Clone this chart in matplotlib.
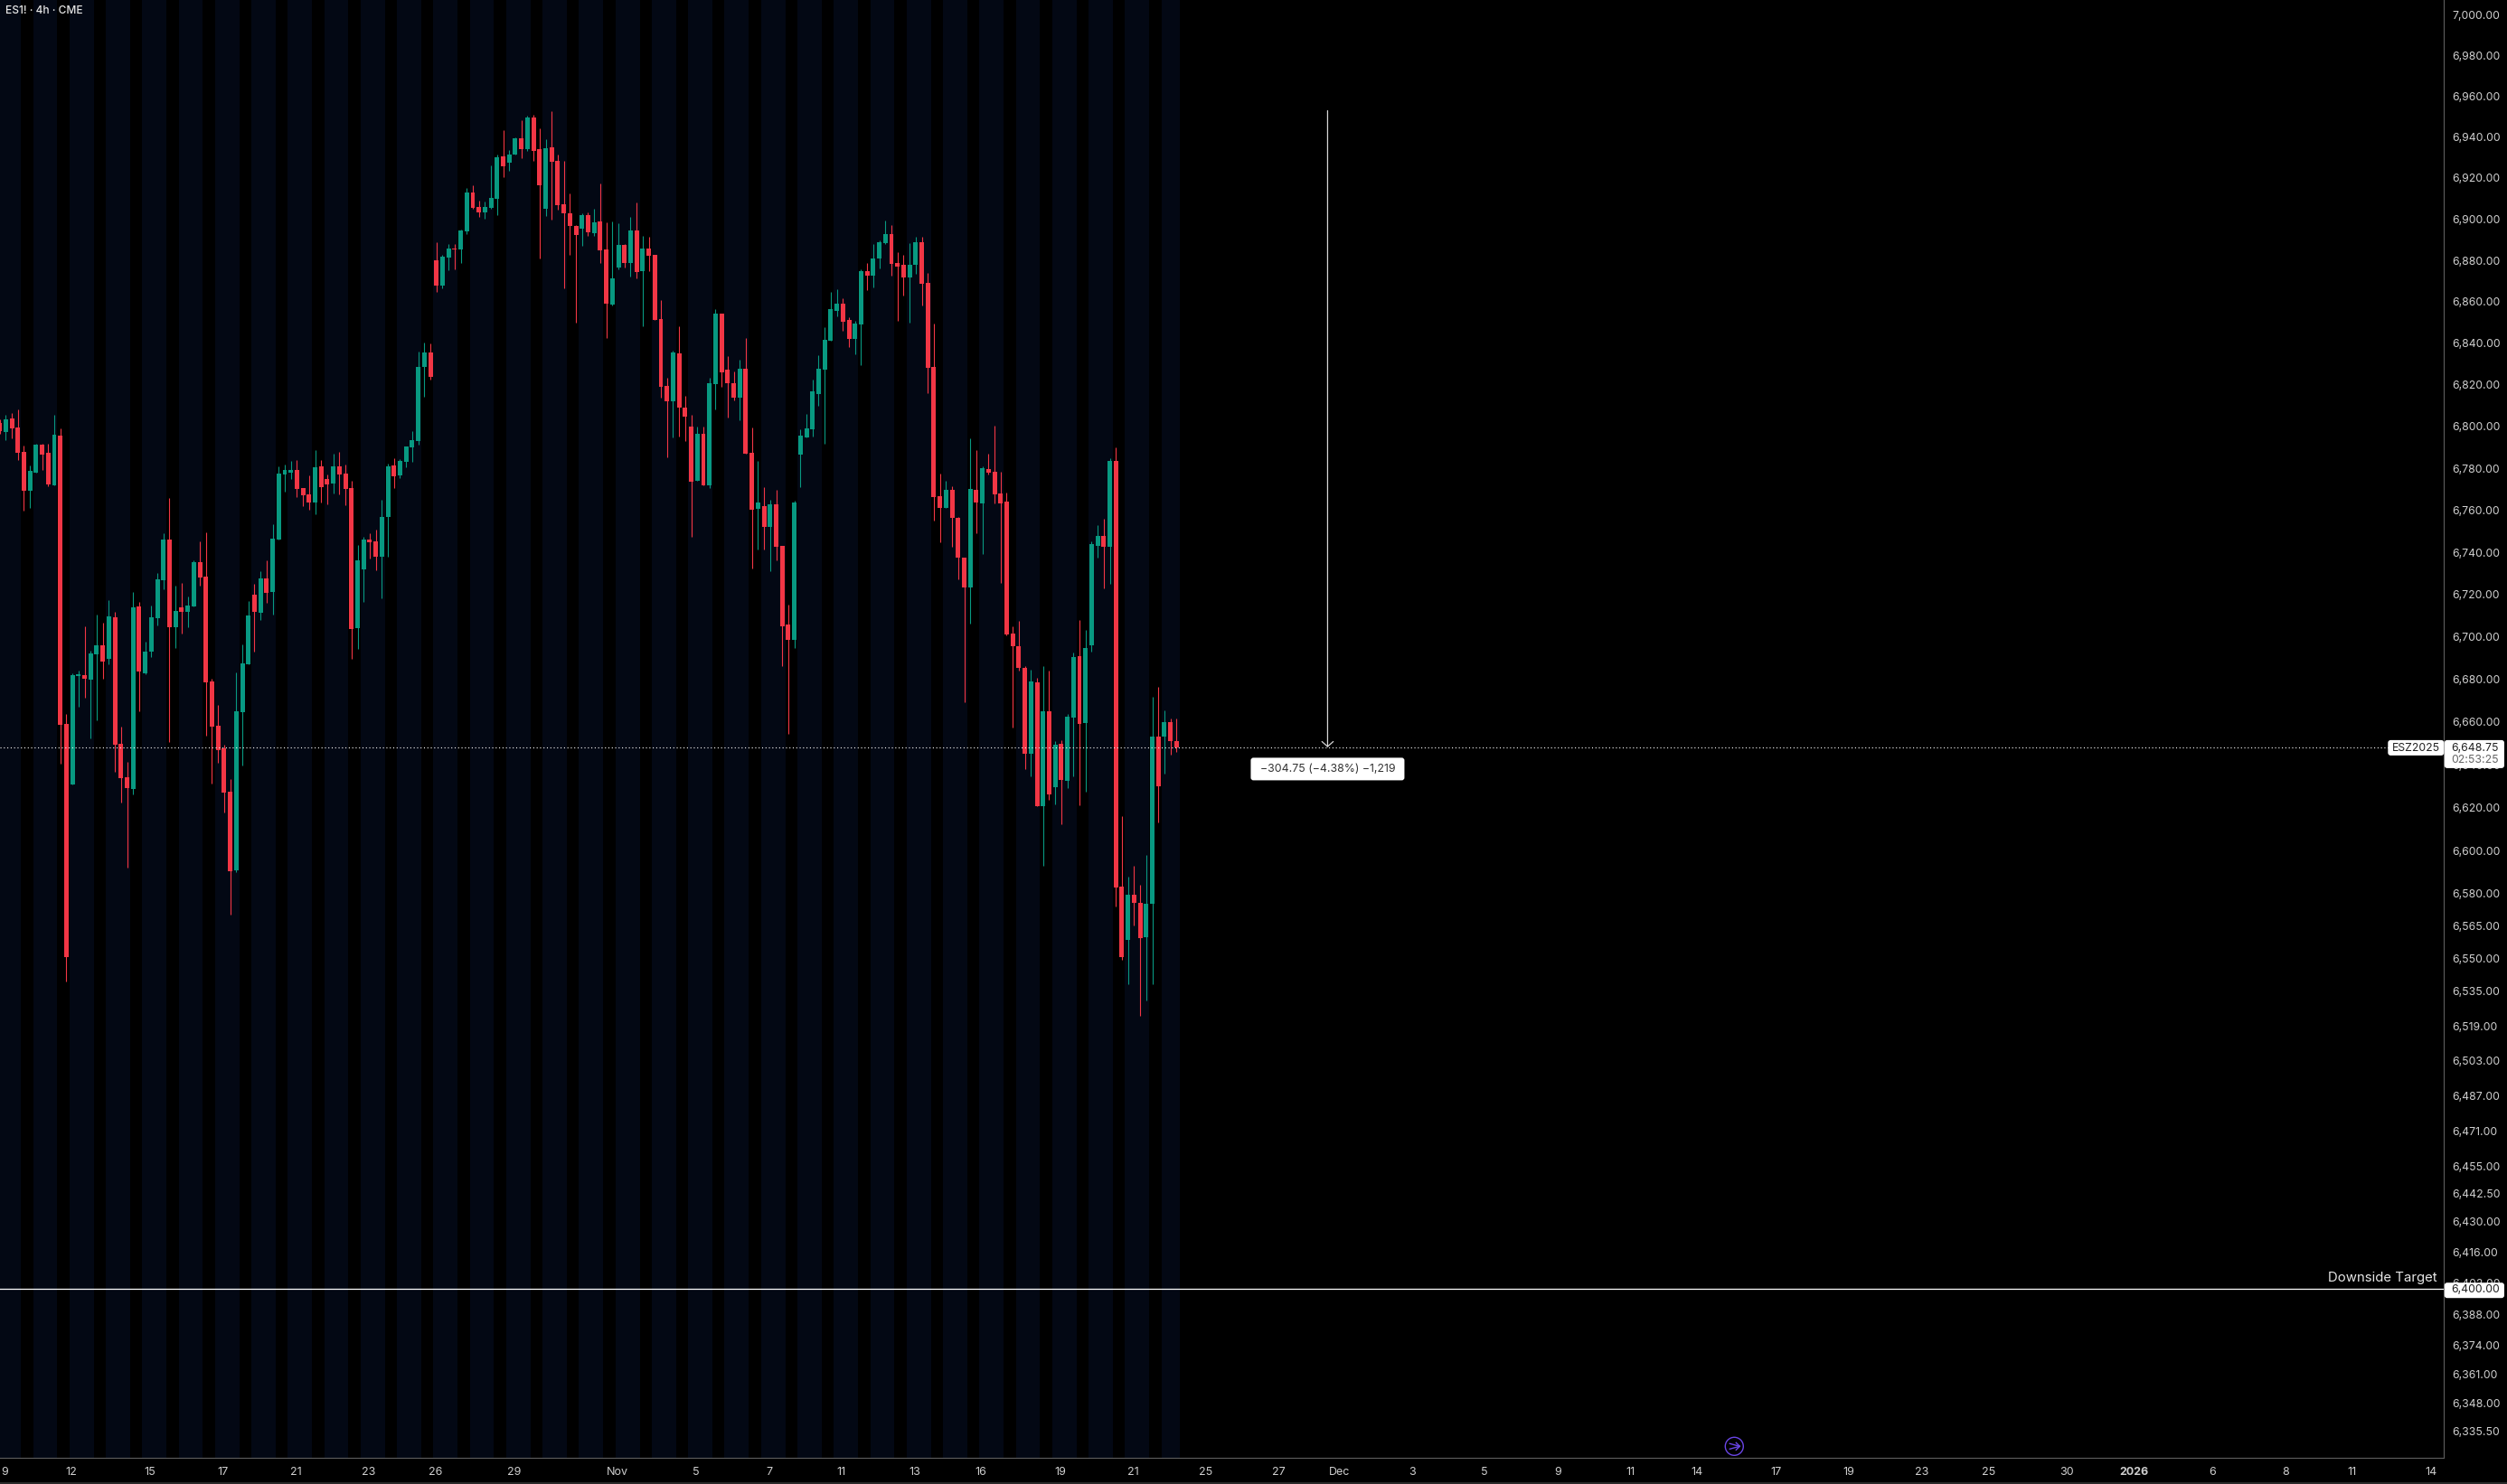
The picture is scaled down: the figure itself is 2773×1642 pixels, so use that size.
import numpy as np
import matplotlib
matplotlib.use("Agg")
import matplotlib.pyplot as plt
from matplotlib.lines import Line2D
from matplotlib.patches import Circle, FancyBboxPatch
from matplotlib.transforms import IdentityTransform, ScaledTranslation

plt.rcParams['font.family'] = ['Inter', 'DejaVu Sans']

# ==============================
# 1. Data
# ==============================
opens = [
    6802.4, 6798.1, 6804.5, 6800.3, 6788.5, 6770.0, 6778.7, 6792.0, 6788.1, 6772.6,
    6796.4, 6659.7, 6631.4, 6682.4, 6682.7, 6680.6, 6692.3, 6696.7, 6690.3, 6709.9,
    6650.4, 6634.8, 6629.3, 6715.0, 6683.4, 6693.7, 6709.5, 6727.4, 6746.7, 6705.3,
    6714.7, 6712.6, 6715.0, 6736.1, 6729.2, 6679.6, 6658.9, 6648.2, 6628.0, 6591.4,
    6665.2, 6687.8, 6720.6, 6712.2, 6728.4, 6721.9, 6746.7, 6777.7, 6778.7, 6779.9,
    6771.4, 6768.3, 6764.4, 6781.6, 6775.6, 6773.5, 6781.6, 6778.1, 6771.4, 6704.7,
    6732.6, 6746.7, 6745.8, 6738.6, 6757.5, 6782.1, 6777.3, 6783.8, 6790.6, 6793.7,
    6829.3, 6836.3, 6880.7, 6868.4, 6882.0, 6886.4, 6886.0, 6894.7, 6913.6, 6906.5,
    6903.9, 6906.1, 6910.4, 6931.3, 6928.1, 6931.9, 6940.1, 6934.8, 6950.2, 6934.8,
    6905.7, 6935.6, 6929.1, 6907.8, 6903.5, 6897.3, 6896.1, 6902.5, 6893.8, 6899.4,
    6886.0, 6859.2, 6877.2, 6888.1, 6879.3, 6895.1, 6875.4, 6886.4, 6883.4, 6852.4,
    6820.2, 6812.8, 6835.7, 6809.7, 6800.6, 6774.8, 6797.1, 6772.5, 6821.0, 6855.0,
    6827.9, 6821.4, 6814.6, 6828.3, 6788.1, 6761.4, 6762.7, 6752.7, 6763.5, 6743.7,
    6706.4, 6699.2, 6787.3, 6795.4, 6799.2, 6816.3, 6827.9, 6841.7, 6856.3, 6859.8,
    6851.9, 6842.5, 6849.8, 6875.4, 6873.3, 6881.7, 6889.1, 6893.4, 6879.4, 6878.3,
    6872.5, 6878.3, 6889.5, 6869.8, 6829.3, 6767.4, 6761.8, 6770.4, 6757.2, 6738.1,
    6724.0, 6770.4, 6764.1, 6780.4, 6779.0, 6768.7, 6764.9, 6702.1, 6696.2, 6686.0,
    6645.7, 6679.2, 6621.3, 6665.7, 6630.2, 6650.4, 6633.0, 6662.7, 6691.5, 6660.2,
    6696.7, 6743.8, 6748.4, 6743.2, 6784.2, 6583.8, 6559.2, 6580.1, 6576.4, 6560.5,
    6576.0, 6653.8, 6653.8, 6660.6, 6651.7,
]
highs = [
    6804.0, 6806.3, 6807.2, 6809.0, 6791.6, 6782.1, 6792.4, 6792.4, 6792.4, 6806.3,
    6799.7, 6664.4, 6683.4, 6684.7, 6705.6, 6694.1, 6711.2, 6707.4, 6718.1, 6712.6,
    6658.3, 6642.0, 6721.7, 6717.1, 6698.4, 6715.4, 6730.9, 6749.8, 6766.6, 6724.9,
    6726.2, 6719.8, 6736.8, 6745.8, 6750.2, 6681.0, 6668.8, 6649.8, 6633.9, 6684.0,
    6697.1, 6717.7, 6725.8, 6731.9, 6736.8, 6754.2, 6781.6, 6782.5, 6784.2, 6784.6,
    6771.4, 6777.3, 6789.5, 6784.6, 6777.7, 6787.7, 6788.5, 6782.5, 6774.8, 6744.2,
    6748.0, 6749.8, 6751.5, 6765.8, 6782.9, 6785.6, 6785.2, 6791.2, 6798.5, 6836.7,
    6840.9, 6840.3, 6889.5, 6883.4, 6888.5, 6888.5, 6895.5, 6915.7, 6917.1, 6909.6,
    6909.2, 6926.7, 6932.1, 6944.1, 6934.2, 6940.5, 6949.0, 6951.2, 6951.6, 6944.9,
    6939.5, 6953.3, 6932.1, 6929.1, 6913.2, 6897.7, 6903.5, 6903.9, 6905.7, 6918.0,
    6899.0, 6899.4, 6898.6, 6888.5, 6901.8, 6908.6, 6892.6, 6892.0, 6883.4, 6861.6,
    6824.0, 6837.1, 6848.9, 6815.3, 6806.2, 6800.6, 6800.6, 6824.0, 6857.1, 6855.0,
    6834.5, 6827.2, 6832.8, 6843.1, 6800.2, 6784.2, 6771.7, 6765.8, 6770.4, 6743.7,
    6716.0, 6765.3, 6799.2, 6806.6, 6823.1, 6834.9, 6848.5, 6865.5, 6866.7, 6862.3,
    6853.2, 6851.5, 6876.4, 6879.5, 6888.5, 6890.3, 6900.0, 6897.7, 6884.6, 6883.4,
    6889.1, 6892.0, 6892.0, 6874.6, 6850.2, 6778.2, 6774.8, 6772.1, 6757.6, 6738.1,
    6795.0, 6789.4, 6781.6, 6787.7, 6801.0, 6779.0, 6769.1, 6705.6, 6708.3, 6687.0,
    6685.3, 6681.5, 6687.0, 6684.9, 6651.7, 6652.1, 6664.4, 6693.2, 6708.7, 6703.9,
    6745.9, 6753.6, 6756.7, 6785.5, 6790.7, 6616.6, 6588.5, 6593.6, 6584.8, 6598.6,
    6672.5, 6677.0, 6666.1, 6662.3, 6662.3,
]
lows = [
    6797.0, 6794.1, 6795.1, 6784.6, 6760.6, 6761.7, 6778.7, 6779.9, 6772.2, 6772.6,
    6641.0, 6540.0, 6631.4, 6667.8, 6672.0, 6652.9, 6661.4, 6681.0, 6687.8, 6637.3,
    6622.9, 6592.7, 6626.7, 6665.5, 6683.0, 6691.2, 6706.0, 6723.3, 6651.2, 6695.4,
    6702.2, 6705.3, 6715.0, 6724.9, 6654.2, 6631.8, 6641.6, 6618.2, 6570.8, 6590.6,
    6640.3, 6687.8, 6693.7, 6708.8, 6716.8, 6711.2, 6746.7, 6769.7, 6775.6, 6767.0,
    6762.7, 6761.0, 6758.8, 6764.4, 6763.4, 6768.7, 6768.3, 6763.0, 6690.3, 6695.0,
    6717.1, 6737.8, 6732.2, 6718.9, 6738.6, 6771.4, 6776.0, 6781.2, 6783.8, 6792.0,
    6814.9, 6823.1, 6865.5, 6867.2, 6875.8, 6876.4, 6879.3, 6893.4, 6905.7, 6901.8,
    6900.8, 6905.7, 6902.5, 6921.0, 6924.1, 6931.9, 6930.2, 6933.8, 6929.0, 6881.7,
    6902.1, 6900.4, 6905.2, 6867.2, 6883.4, 6850.7, 6887.7, 6892.6, 6892.6, 6879.3,
    6843.1, 6858.8, 6876.4, 6877.2, 6872.9, 6871.9, 6848.9, 6875.4, 6851.8, 6814.6,
    6786.0, 6795.4, 6795.8, 6793.7, 6748.1, 6774.8, 6772.5, 6771.4, 6808.9, 6819.8,
    6804.9, 6813.2, 6803.7, 6787.7, 6733.0, 6742.0, 6742.0, 6731.8, 6736.8, 6686.9,
    6655.2, 6695.5, 6771.7, 6795.4, 6795.8, 6810.5, 6792.4, 6841.7, 6853.6, 6846.6,
    6838.6, 6835.3, 6830.0, 6866.3, 6867.6, 6876.8, 6888.5, 6873.3, 6851.5, 6863.4,
    6850.7, 6874.2, 6858.8, 6816.7, 6755.8, 6745.4, 6761.8, 6743.3, 6727.8, 6669.9,
    6707.0, 6749.8, 6739.8, 6777.7, 6764.1, 6726.1, 6701.4, 6658.0, 6684.9, 6638.5,
    6635.1, 6621.3, 6593.6, 6624.2, 6622.0, 6612.8, 6629.6, 6635.1, 6621.7, 6628.0,
    6693.8, 6738.2, 6723.5, 6725.8, 6574.7, 6550.0, 6538.6, 6566.0, 6524.4, 6531.2,
    6538.6, 6613.6, 6636.4, 6645.3, 6646.7,
]
closes = [
    6798.5, 6804.1, 6799.7, 6788.1, 6770.0, 6779.5, 6792.0, 6787.3, 6773.1, 6796.8,
    6659.3, 6551.3, 6682.7, 6682.7, 6681.0, 6692.9, 6696.7, 6689.1, 6710.5, 6649.8,
    6634.4, 6629.7, 6714.7, 6684.4, 6693.7, 6709.9, 6727.8, 6746.7, 6705.3, 6713.0,
    6712.6, 6715.4, 6736.1, 6728.8, 6679.2, 6658.3, 6647.4, 6627.6, 6591.0, 6665.5,
    6688.1, 6710.9, 6712.6, 6728.4, 6721.5, 6747.1, 6778.1, 6779.9, 6779.9, 6770.8,
    6767.9, 6764.4, 6781.2, 6771.8, 6773.1, 6781.6, 6777.7, 6770.8, 6704.3, 6736.8,
    6746.7, 6745.4, 6738.6, 6757.5, 6781.6, 6776.9, 6784.2, 6791.2, 6794.1, 6829.3,
    6836.3, 6824.5, 6868.4, 6882.4, 6886.4, 6886.0, 6895.1, 6913.6, 6906.1, 6903.9,
    6906.5, 6911.0, 6930.7, 6926.3, 6932.1, 6940.1, 6934.8, 6950.2, 6933.8, 6917.1,
    6935.2, 6928.5, 6907.4, 6903.5, 6897.3, 6893.0, 6902.5, 6894.3, 6899.0, 6885.6,
    6859.8, 6871.9, 6888.1, 6879.3, 6895.1, 6875.0, 6886.4, 6882.8, 6851.8, 6819.8,
    6812.8, 6836.3, 6809.7, 6805.4, 6774.2, 6797.1, 6772.5, 6821.4, 6855.0, 6826.6,
    6821.4, 6814.6, 6828.3, 6787.7, 6761.0, 6764.5, 6752.7, 6763.5, 6743.3, 6705.7,
    6699.2, 6764.5, 6796.3, 6799.6, 6817.3, 6828.3, 6842.1, 6857.1, 6859.8, 6851.1,
    6842.5, 6850.2, 6875.4, 6873.3, 6881.7, 6889.5, 6893.4, 6879.0, 6877.7, 6872.5,
    6878.3, 6889.5, 6869.4, 6828.9, 6767.0, 6761.8, 6770.4, 6757.2, 6738.1, 6724.0,
    6770.8, 6764.5, 6780.8, 6778.6, 6768.3, 6764.1, 6701.8, 6696.2, 6686.0, 6645.7,
    6679.8, 6621.3, 6665.7, 6626.8, 6650.0, 6633.6, 6663.0, 6691.2, 6659.6, 6695.5,
    6744.5, 6748.4, 6743.2, 6784.2, 6583.5, 6551.1, 6580.1, 6576.4, 6560.1, 6576.0,
    6653.8, 6630.6, 6660.6, 6651.7, 6648.75,
]

price_ticks = [7000, 6980, 6960, 6940, 6920, 6900, 6880, 6860, 6840, 6820, 6800,
               6780, 6760, 6740, 6720, 6700, 6680, 6660, 6640, 6620, 6600, 6580,
               6565, 6550, 6535, 6519, 6503, 6487, 6471, 6455, 6442.5, 6430, 6416,
               6402, 6388, 6374, 6361, 6348, 6335.5]

# bar number under each date label
date_bars = [1, 12, 25, 37, 49, 61, 72, 85, 102, 115, 127, 139, 151, 162, 175, 187,
             199, 211, 221, 233, 245, 257, 269, 280, 293, 305, 317, 328, 341, 352,
             365, 377, 388, 401]
date_labels = ['9', '12', '15', '17', '21', '23', '26', '29', 'Nov', '5', '7', '11',
               '13', '16', '19', '21', '25', '27', 'Dec', '3', '5', '9', '11', '14',
               '17', '19', '23', '25', '30', '2026', '6', '8', '11', '14']

last_price = 6648.75
target_price = 6400
measure_top = 6953.5
measure_bar = 218.9

# ==============================
# 2. Figure and axes
# ==============================
W, H = 2773, 1642
axis_x, axis_y = 2703.3, 1613

GREEN = '#089981'
RED = '#F23645'
BAND = '#030814'
LABEL = '#cfcfcf'
EDGE = '#5e5e5e'

fig = plt.figure(figsize=(W / 100, H / 100), dpi=100, facecolor='black')
ax = fig.add_axes([0, (H - axis_y) / H, axis_x / W, axis_y / H], facecolor='black')
ax.set_yscale('log')
ax.set_xlim(0.057, 402.93)
ax.set_ylim(6324.4, 7007.9)

# ==============================
# 3. Session bands and candles
# ==============================
bars = np.arange(len(closes))
o, h, l, c = map(np.array, (opens, highs, lows, closes))
up = c >= o
colors = np.where(up, GREEN, RED)

for s in np.arange(-0.5, bars[-1], 6):
    ax.axvspan(s, min(s + 4, bars[-1] + 0.5), color=BAND, lw=0, zorder=0)

ax.vlines(bars, l, h, colors=colors, lw=0.8, zorder=2)
ax.bar(bars, np.maximum(np.abs(c - o), 0.5), bottom=np.minimum(o, c), width=0.74,
       color=colors, lw=0, zorder=3)

# ==============================
# 4. Lines and measure arrow
# ==============================
ax.axhline(last_price, color='white', lw=0.8, ls=(0, (1, 2.4)), zorder=4)
ax.axhline(target_price, color='white', lw=0.9, zorder=4)
ax.annotate('', xy=(measure_bar, last_price), xytext=(measure_bar, measure_top),
            arrowprops=dict(arrowstyle='->,head_length=0.4,head_width=0.45', color='#d8d8d8',
                            lw=0.9, shrinkA=0, shrinkB=0, mutation_scale=10), zorder=5)

# ==============================
# 5. Axes ticks
# ==============================
ax.yaxis.tick_right()
ax.yaxis.set_minor_locator(matplotlib.ticker.NullLocator())
ax.yaxis.set_minor_formatter(matplotlib.ticker.NullFormatter())
ax.set_yticks(price_ticks)
ax.set_yticklabels([f'{p:,.2f}' for p in price_ticks])
ax.set_xticks(np.array(date_bars) - 0.2)
ax.set_xticklabels(date_labels)
ax.tick_params(axis='y', length=0, pad=6.2, labelsize=8.85, labelcolor=LABEL)
ax.tick_params(axis='x', length=0, pad=7.2, labelsize=9, labelcolor=LABEL)
# nudge price labels up a little, the comma pulls their centre down
nudge = ScaledTranslation(0, 1.5 / 100, fig.dpi_scale_trans)
for t in ax.get_yticklabels():
    t.set_transform(t.get_transform() + nudge)
for t in ax.get_xticklabels():
    if t.get_text() == '2026':
        t.set_fontweight('bold')
for side in ('left', 'top'):
    ax.spines[side].set_visible(False)
for side in ('right', 'bottom'):
    ax.spines[side].set_color(EDGE)
    ax.spines[side].set_linewidth(0.8)

# ==============================
# 6. Labels in pixels
# ==============================
px = IdentityTransform()


def to_y(price):
    return ax.transData.transform((1, price))[1]


def box(x0, y0, x1, y1, color='white', r=3):
    fig.add_artist(FancyBboxPatch((x0 + r, y0 + r), x1 - x0 - 2 * r, y1 - y0 - 2 * r,
                                  boxstyle=f'round,pad={r},rounding_size={r}', fc=color,
                                  ec='none', transform=px, zorder=5))


def label(x, y, s, color='#222222', size=8.85, ha='center', **kw):
    fig.text(x, y, s, color=color, fontsize=size, ha=ha, va='center', transform=px,
             zorder=6, **kw)


last_y = to_y(last_price)
box(axis_x + 0.5, last_y - 23, W - 3, last_y + 8)
box(axis_x - 62, last_y - 9, axis_x, last_y + 8)
label(axis_x + 34.5, last_y - 0.8, f'{last_price:,.2f}')
label(axis_x + 34.5, last_y - 14.5, '02:53:25', color='#666666')
label(axis_x - 31, last_y - 1.2, 'ESZ2025')

target_y = to_y(target_price)
box(axis_x + 0.5, target_y - 10, W - 3, target_y + 7)
label(axis_x + 34.5, target_y - 1, f'{target_price:,.2f}')
label(axis_x - 8, target_y + 12.5, 'Downside Target', color='#e6e6e6', size=10.75, ha='right')

arrow_x = ax.transData.transform((measure_bar, last_price))[0]
box(arrow_x - 85, last_y - 36.5, arrow_x + 85, last_y - 11.5)
label(arrow_x, last_y - 24, '\u2212304.75 (\u22124.38%) \u22121,219', color='#333333', size=8.9)

label(5.5, H - 11.5, 'ES1! \u00b7 4h \u00b7 CME', color='#e6e6e6', size=8.6, ha='left', fontweight='medium')

# round purple marker above the time axis
cx, cy = 1918.3, H - 1600.3
fig.add_artist(Circle((cx, cy), 10, fc='none', ec='#6a45e6', lw=1.0, transform=px, zorder=6))
for xs, ys in [((-5, 6), (-3, 0)), ((-5, 6), (3, 0)), ((2, 6, 2), (-4, 0, 4))]:
    fig.add_artist(Line2D(cx + np.array(xs), cy + np.array(ys), color='#6a45e6', lw=1.0,
                          transform=px, zorder=6))

# thin lighter strip along the bottom edge
fig.add_artist(Line2D([0, W], [1, 1], color='#2c2c2c', lw=1.4, transform=px, zorder=6))

fig.savefig('out.png', dpi=100, facecolor='black')
